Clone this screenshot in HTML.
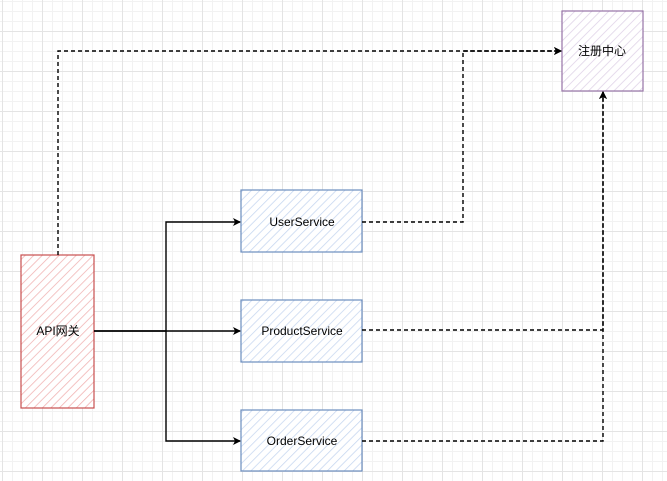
<!DOCTYPE html>
<html><head><meta charset="utf-8"><style>
body{margin:0;width:667px;height:481px;overflow:hidden;background:#fff;
background-image:linear-gradient(#e4e4e4 1px,transparent 1px),linear-gradient(90deg,#e4e4e4 1px,transparent 1px),linear-gradient(#f2f2f2 1px,transparent 1px),linear-gradient(90deg,#f2f2f2 1px,transparent 1px);
background-size:40px 40px,40px 40px,10px 10px,10px 10px;background-position:0 31px,2px 0,0 1px,2px 0;}
svg{position:absolute;left:0;top:0}
</style></head><body>
<svg width="667" height="481" viewBox="0 0 667 481">
<defs>
<pattern id="hr" width="6" height="6" patternUnits="userSpaceOnUse" patternTransform="rotate(45)"><rect width="6" height="6" fill="#fff"/><line x1="0" y1="0" x2="0" y2="6" stroke="#f0b0b0" stroke-width="1.5"/></pattern>
<pattern id="hb" width="6" height="6" patternUnits="userSpaceOnUse" patternTransform="rotate(45)"><rect width="6" height="6" fill="#fff"/><line x1="0" y1="0" x2="0" y2="6" stroke="#c5d6f0" stroke-width="1.5"/></pattern>
<pattern id="hp" width="6" height="6" patternUnits="userSpaceOnUse" patternTransform="rotate(45)"><rect width="6" height="6" fill="#fff"/><line x1="0" y1="0" x2="0" y2="6" stroke="#ddd0e6" stroke-width="1.5"/></pattern>
<marker id="a" markerWidth="8" markerHeight="8" refX="7" refY="4" orient="auto" markerUnits="userSpaceOnUse"><path d="M0,0 L8,4 L0,8 L2,4z" fill="#000"/></marker>
</defs>
<rect x="21" y="255" width="73" height="153" fill="url(#hr)" stroke="#c94f4f" stroke-width="1.2"/>
<rect x="241" y="190" width="121" height="62" fill="url(#hb)" stroke="#6c8ebf" stroke-width="1.2"/>
<rect x="241" y="300" width="121" height="62" fill="url(#hb)" stroke="#6c8ebf" stroke-width="1.2"/>
<rect x="241" y="410" width="121" height="61" fill="url(#hb)" stroke="#6c8ebf" stroke-width="1.2"/>
<rect x="562" y="11" width="81" height="80" fill="url(#hp)" stroke="#9673a6" stroke-width="1.2"/>
<g fill="none" stroke="#000" stroke-width="1.4">
<path d="M94,331 H166 V222 H240" marker-end="url(#a)"/>
<path d="M94,331 H240" marker-end="url(#a)"/>
<path d="M166,331 V441 H240" marker-end="url(#a)"/>
</g>
<g fill="none" stroke="#000" stroke-width="1.4" stroke-dasharray="4 3">
<path d="M58,255 V51 H561" marker-end="url(#a)"/>
<path d="M362,222 H463 V51 H561" marker-end="url(#a)"/>
<path d="M362,330 H603 V92" marker-end="url(#a)"/>
<path d="M362,441 H603 V92" marker-end="url(#a)"/>
</g>
<g font-family="Liberation Sans, Noto Sans CJK SC, sans-serif" font-size="12" text-anchor="middle" fill="#000">
<text x="58" y="335">API网关</text>
<text x="302" y="226">UserService</text>
<text x="302" y="335">ProductService</text>
<text x="302" y="445">OrderService</text>
<text x="602" y="55">注册中心</text>
</g>
</svg>
</body></html>
